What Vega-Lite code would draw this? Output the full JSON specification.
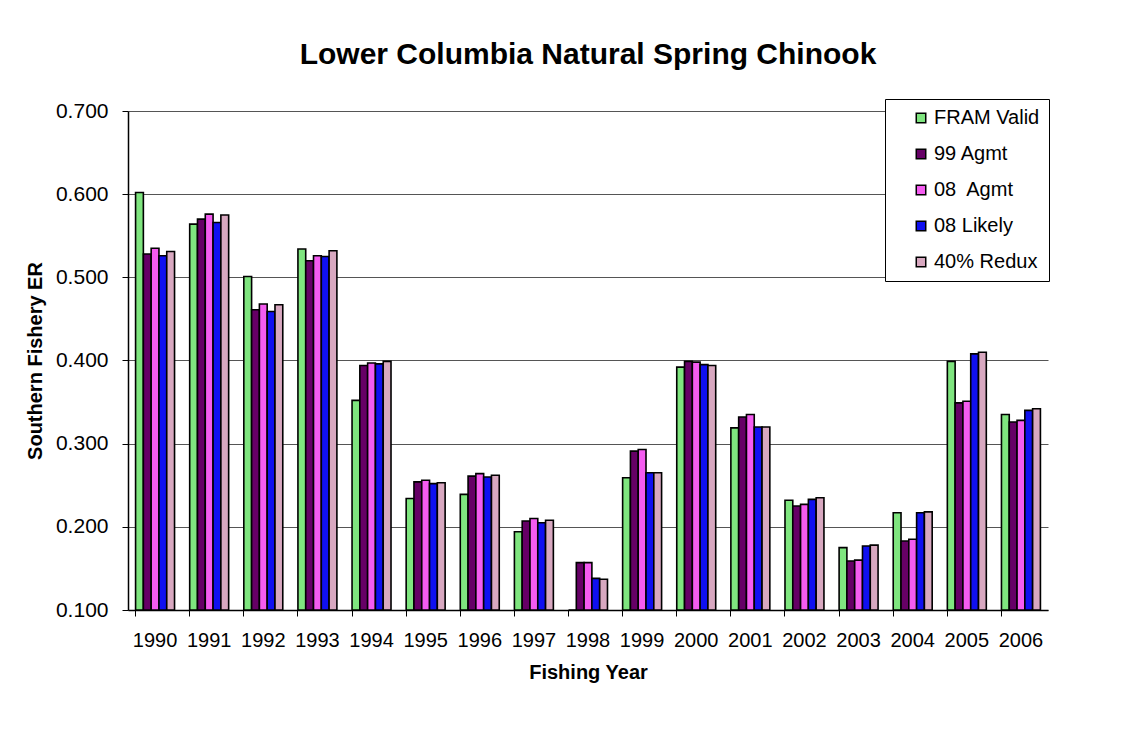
{
  "$schema": "https://vega.github.io/schema/vega-lite/v6.json",
  "width": 920,
  "height": 499,
  "autosize": {"type": "none"},
  "padding": {"left": 128, "top": 111, "right": 75, "bottom": 121},
  "background": "white",
  "title": {
    "text": "Lower Columbia Natural Spring Chinook",
    "font": "Liberation Sans",
    "fontSize": 30,
    "fontWeight": "bold",
    "color": "black",
    "anchor": "middle",
    "offset": 29
  },
  "config": {
    "view": {"stroke": null},
    "font": "Liberation Sans"
  },
  "data": {
    "values": [
      {"year": "1990", "series": "FRAM Valid", "value": 0.602},
      {"year": "1990", "series": "99 Agmt", "value": 0.528},
      {"year": "1990", "series": "08\u00a0 Agmt", "value": 0.535},
      {"year": "1990", "series": "08 Likely", "value": 0.526},
      {"year": "1990", "series": "40% Redux", "value": 0.531},
      {"year": "1991", "series": "FRAM Valid", "value": 0.564},
      {"year": "1991", "series": "99 Agmt", "value": 0.570},
      {"year": "1991", "series": "08\u00a0 Agmt", "value": 0.576},
      {"year": "1991", "series": "08 Likely", "value": 0.566},
      {"year": "1991", "series": "40% Redux", "value": 0.575},
      {"year": "1992", "series": "FRAM Valid", "value": 0.501},
      {"year": "1992", "series": "99 Agmt", "value": 0.461},
      {"year": "1992", "series": "08\u00a0 Agmt", "value": 0.468},
      {"year": "1992", "series": "08 Likely", "value": 0.459},
      {"year": "1992", "series": "40% Redux", "value": 0.467},
      {"year": "1993", "series": "FRAM Valid", "value": 0.534},
      {"year": "1993", "series": "99 Agmt", "value": 0.520},
      {"year": "1993", "series": "08\u00a0 Agmt", "value": 0.526},
      {"year": "1993", "series": "08 Likely", "value": 0.525},
      {"year": "1993", "series": "40% Redux", "value": 0.532},
      {"year": "1994", "series": "FRAM Valid", "value": 0.352},
      {"year": "1994", "series": "99 Agmt", "value": 0.394},
      {"year": "1994", "series": "08\u00a0 Agmt", "value": 0.397},
      {"year": "1994", "series": "08 Likely", "value": 0.396},
      {"year": "1994", "series": "40% Redux", "value": 0.399},
      {"year": "1995", "series": "FRAM Valid", "value": 0.234},
      {"year": "1995", "series": "99 Agmt", "value": 0.254},
      {"year": "1995", "series": "08\u00a0 Agmt", "value": 0.256},
      {"year": "1995", "series": "08 Likely", "value": 0.252},
      {"year": "1995", "series": "40% Redux", "value": 0.253},
      {"year": "1996", "series": "FRAM Valid", "value": 0.239},
      {"year": "1996", "series": "99 Agmt", "value": 0.261},
      {"year": "1996", "series": "08\u00a0 Agmt", "value": 0.264},
      {"year": "1996", "series": "08 Likely", "value": 0.260},
      {"year": "1996", "series": "40% Redux", "value": 0.262},
      {"year": "1997", "series": "FRAM Valid", "value": 0.194},
      {"year": "1997", "series": "99 Agmt", "value": 0.207},
      {"year": "1997", "series": "08\u00a0 Agmt", "value": 0.210},
      {"year": "1997", "series": "08 Likely", "value": 0.205},
      {"year": "1997", "series": "40% Redux", "value": 0.208},
      {"year": "1998", "series": "FRAM Valid", "value": 0.100},
      {"year": "1998", "series": "99 Agmt", "value": 0.157},
      {"year": "1998", "series": "08\u00a0 Agmt", "value": 0.157},
      {"year": "1998", "series": "08 Likely", "value": 0.138},
      {"year": "1998", "series": "40% Redux", "value": 0.137},
      {"year": "1999", "series": "FRAM Valid", "value": 0.259},
      {"year": "1999", "series": "99 Agmt", "value": 0.291},
      {"year": "1999", "series": "08\u00a0 Agmt", "value": 0.293},
      {"year": "1999", "series": "08 Likely", "value": 0.265},
      {"year": "1999", "series": "40% Redux", "value": 0.265},
      {"year": "2000", "series": "FRAM Valid", "value": 0.392},
      {"year": "2000", "series": "99 Agmt", "value": 0.399},
      {"year": "2000", "series": "08\u00a0 Agmt", "value": 0.398},
      {"year": "2000", "series": "08 Likely", "value": 0.395},
      {"year": "2000", "series": "40% Redux", "value": 0.394},
      {"year": "2001", "series": "FRAM Valid", "value": 0.319},
      {"year": "2001", "series": "99 Agmt", "value": 0.332},
      {"year": "2001", "series": "08\u00a0 Agmt", "value": 0.335},
      {"year": "2001", "series": "08 Likely", "value": 0.320},
      {"year": "2001", "series": "40% Redux", "value": 0.320},
      {"year": "2002", "series": "FRAM Valid", "value": 0.232},
      {"year": "2002", "series": "99 Agmt", "value": 0.225},
      {"year": "2002", "series": "08\u00a0 Agmt", "value": 0.227},
      {"year": "2002", "series": "08 Likely", "value": 0.233},
      {"year": "2002", "series": "40% Redux", "value": 0.235},
      {"year": "2003", "series": "FRAM Valid", "value": 0.175},
      {"year": "2003", "series": "99 Agmt", "value": 0.159},
      {"year": "2003", "series": "08\u00a0 Agmt", "value": 0.160},
      {"year": "2003", "series": "08 Likely", "value": 0.177},
      {"year": "2003", "series": "40% Redux", "value": 0.178},
      {"year": "2004", "series": "FRAM Valid", "value": 0.217},
      {"year": "2004", "series": "99 Agmt", "value": 0.183},
      {"year": "2004", "series": "08\u00a0 Agmt", "value": 0.185},
      {"year": "2004", "series": "08 Likely", "value": 0.217},
      {"year": "2004", "series": "40% Redux", "value": 0.218},
      {"year": "2005", "series": "FRAM Valid", "value": 0.399},
      {"year": "2005", "series": "99 Agmt", "value": 0.349},
      {"year": "2005", "series": "08\u00a0 Agmt", "value": 0.351},
      {"year": "2005", "series": "08 Likely", "value": 0.408},
      {"year": "2005", "series": "40% Redux", "value": 0.410},
      {"year": "2006", "series": "FRAM Valid", "value": 0.335},
      {"year": "2006", "series": "99 Agmt", "value": 0.326},
      {"year": "2006", "series": "08\u00a0 Agmt", "value": 0.328},
      {"year": "2006", "series": "08 Likely", "value": 0.340},
      {"year": "2006", "series": "40% Redux", "value": 0.342}
    ]
  },
  "mark": {"type": "bar", "stroke": "black", "strokeWidth": 1.6, "clip": false},
  "encoding": {
    "x": {
      "field": "year",
      "type": "nominal",
      "scale": {"paddingInner": 0.28, "paddingOuter": 0.14},
      "axis": {
        "title": "Fishing Year",
        "titleFont": "Liberation Sans",
        "titleFontSize": 20,
        "titleFontWeight": "bold",
        "titleColor": "black",
        "titlePadding": 12,
        "labelFont": "Liberation Sans",
        "labelFontSize": 20,
        "labelColor": "black",
        "labelAngle": 0,
        "labelPadding": 14,
        "bandPosition": 0,
        "tickSize": 6,
        "tickColor": "black",
        "domainColor": "black",
        "domainWidth": 1.5,
        "grid": false
      }
    },
    "xOffset": {
      "field": "series",
      "type": "nominal",
      "sort": ["FRAM Valid", "99 Agmt", "08\u00a0 Agmt", "08 Likely", "40% Redux"],
      "scale": {"paddingInner": 0, "paddingOuter": 0}
    },
    "y": {
      "field": "value",
      "type": "quantitative",
      "scale": {"domain": [0.1, 0.7], "zero": false, "nice": false},
      "axis": {
        "title": "Southern Fishery ER",
        "titleFont": "Liberation Sans",
        "titleFontSize": 20,
        "titleFontWeight": "bold",
        "titleColor": "black",
        "titlePadding": 10,
        "labelFont": "Liberation Sans",
        "labelFontSize": 21,
        "labelColor": "black",
        "labelPadding": 14,
        "format": ".3f",
        "values": [0.1, 0.2, 0.3, 0.4, 0.5, 0.6, 0.7],
        "tickSize": 6,
        "tickColor": "black",
        "domainColor": "black",
        "domainWidth": 1.5,
        "grid": true,
        "gridColor": "#555555",
        "gridWidth": 1
      }
    },
    "y2": {"datum": 0.1},
    "color": {
      "field": "series",
      "type": "nominal",
      "sort": ["FRAM Valid", "99 Agmt", "08\u00a0 Agmt", "08 Likely", "40% Redux"],
      "scale": {
        "domain": ["FRAM Valid", "99 Agmt", "08\u00a0 Agmt", "08 Likely", "40% Redux"],
        "range": ["#7FE57F", "#660066", "#F45CF0", "#1010F0", "#D8A8C0"]
      },
      "legend": {
        "title": null,
        "orient": "none",
        "legendX": 757,
        "legendY": -12,
        "direction": "vertical",
        "padding": 9,
        "symbolOffset": 17,
        "labelOffset": 3,
        "rowPadding": 16,
        "symbolType": "square",
        "symbolSize": 90,
        "symbolStrokeColor": "black",
        "symbolStrokeWidth": 1.5,
        "labelFont": "Liberation Sans",
        "labelFontSize": 20,
        "labelColor": "black",
        "fillColor": "white",
        "strokeColor": "black"
      }
    }
  }
}
